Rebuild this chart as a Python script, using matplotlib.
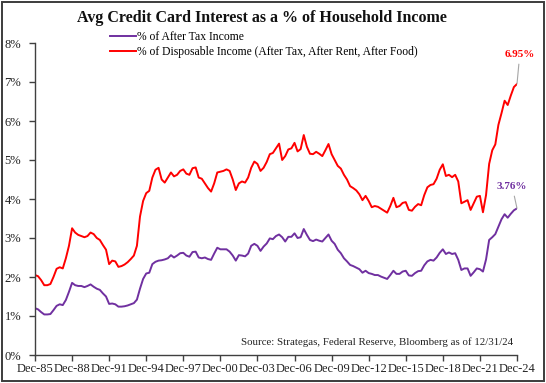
import matplotlib
matplotlib.use("Agg")
import matplotlib.pyplot as plt
from matplotlib.patches import Rectangle
import pandas as pd

# Quarterly data, Dec-1985 .. Dec-2024
start_q = "1985-12-31"
end_q = "2024-12-31"

after_tax = [
    1.20,
    1.17, 1.10, 1.04, 1.04,
    1.05, 1.15, 1.26, 1.30,
    1.28, 1.41, 1.62, 1.85,
    1.79, 1.77, 1.77, 1.74,
    1.77, 1.81, 1.75, 1.70,
    1.67, 1.58, 1.50, 1.31,
    1.32, 1.30, 1.24, 1.24,
    1.25, 1.27, 1.30, 1.33,
    1.42, 1.70, 1.95, 2.09,
    2.11, 2.33, 2.39, 2.42,
    2.43, 2.45, 2.48, 2.56,
    2.50, 2.55, 2.61, 2.62,
    2.55, 2.52, 2.64, 2.65,
    2.50, 2.48, 2.50, 2.46,
    2.44, 2.60, 2.75, 2.71,
    2.71, 2.71, 2.65, 2.55,
    2.42, 2.56, 2.55, 2.53,
    2.60, 2.80, 2.85, 2.80,
    2.67, 2.78, 2.86, 2.99,
    2.97, 3.05, 3.09, 3.02,
    2.91, 3.03, 3.03, 3.12,
    3.00, 3.02, 3.23, 3.08,
    2.95, 2.92, 2.96, 2.93,
    2.91, 3.00, 3.09, 2.93,
    2.85, 2.70, 2.61, 2.48,
    2.40, 2.31, 2.28, 2.24,
    2.20, 2.11, 2.16, 2.10,
    2.08, 2.05, 2.05, 2.01,
    1.98, 1.95, 2.05, 2.16,
    2.08, 2.08, 2.14, 2.16,
    2.04, 2.03, 2.10, 2.15,
    2.16, 2.30, 2.40, 2.44,
    2.42, 2.50, 2.62, 2.71,
    2.59, 2.63, 2.59, 2.61,
    2.44, 2.18, 2.22, 2.22,
    2.03, 2.12, 2.22, 2.20,
    2.14, 2.45, 2.95, 3.02,
    3.10, 3.29, 3.48, 3.61,
    3.52, 3.62, 3.71, 3.76,
]

disposable = [
    2.05,
    2.02, 1.92, 1.79, 1.79,
    1.82, 2.00, 2.21, 2.25,
    2.22, 2.48, 2.80, 3.25,
    3.14, 3.08, 3.05, 3.02,
    3.05, 3.14, 3.10, 3.00,
    2.95, 2.82, 2.70, 2.33,
    2.42, 2.40, 2.26, 2.28,
    2.32, 2.38, 2.46, 2.55,
    2.80, 3.55, 3.95, 4.15,
    4.21, 4.55, 4.75, 4.80,
    4.50, 4.42, 4.55, 4.68,
    4.58, 4.62, 4.72, 4.76,
    4.65, 4.62, 4.79, 4.81,
    4.55, 4.52, 4.40, 4.28,
    4.19, 4.40, 4.68, 4.70,
    4.72, 4.76, 4.72, 4.50,
    4.23, 4.40, 4.45, 4.42,
    4.55, 4.80, 4.96, 4.90,
    4.72, 4.80, 4.95, 5.15,
    5.18, 5.30, 5.42, 5.00,
    5.10, 5.27, 5.30, 5.44,
    5.22, 5.28, 5.64, 5.34,
    5.16, 5.15, 5.21, 5.16,
    5.10, 5.25, 5.41, 5.15,
    5.00, 4.85, 4.78, 4.62,
    4.50, 4.33, 4.28, 4.22,
    4.12, 3.97, 4.08, 3.95,
    3.79, 3.82, 3.80, 3.75,
    3.70, 3.65, 3.82, 4.03,
    3.79, 3.82, 3.90, 3.92,
    3.72, 3.70, 3.80, 3.87,
    3.84, 4.10, 4.30, 4.36,
    4.38, 4.52, 4.75, 4.89,
    4.59, 4.62, 4.56, 4.62,
    4.45, 3.89, 3.93, 3.97,
    3.72, 3.89, 4.06, 4.08,
    3.66, 4.10, 4.90, 5.25,
    5.40, 5.90, 6.20, 6.52,
    6.41, 6.65, 6.87, 6.95,
]

title = "Avg Credit Card Interest as a % of Household Income"
label_after_tax = "% of After Tax Income"
label_disp = "% of Disposable Income (After Tax, After Rent, After Food)"
source = "Source: Strategas, Federal Reserve, Bloomberg as of 12/31/24"
yticks = [0, 1, 2, 3, 4, 5, 6, 7, 8]

dates = pd.date_range(start_q, end_q, freq="QE")

plt.rcParams['font.family'] = ['Liberation Serif', 'DejaVu Serif']

W, H = 546, 383
fig = plt.figure(figsize=(W / 100, H / 100), dpi=100)
fig.patch.set_facecolor("white")
fig.patches.append(Rectangle((2 / W, 2 / H), 1 - 4 / W, 1 - 4 / H, transform=fig.transFigure,
                             fill=False, edgecolor="#3c3c3c", lw=1.4))

ax = fig.add_axes([35 / W, (H - 355) / H, (517 - 35) / W, (355 - 43) / H])
purple = "#7030A0"
red = "#FF0000"
ax.plot(dates, after_tax, color=purple, lw=1.4, label=label_after_tax)
ax.plot(dates, disposable, color=red, lw=1.4, label=label_disp)

ax.set_ylim(0, 8)
ax.set_xlim(dates[0], dates[-1])
ax.set_yticks(yticks)
ax.set_yticklabels([f"{v}%" for v in yticks])
tick_dates = [d for d in dates if d.month == 12 and d.year % 3 == 2]
ax.set_xticks(tick_dates)
ax.set_xticklabels([d.strftime("Dec-%y") for d in tick_dates])
for s in ["top", "right"]:
    ax.spines[s].set_visible(False)
for s in ["left", "bottom"]:
    ax.spines[s].set_color("#404040")
    ax.spines[s].set_linewidth(1.0)
ax.tick_params(axis="both", direction="out", length=4, width=1.0, color="#404040",
               labelsize=9, labelcolor="#222222")
ax.tick_params(axis="y", pad=6)
ax.tick_params(axis="x", pad=2)

fig.text(0.48, 1 - 18 / H, title, ha="center", va="center", fontsize=11.5, fontweight="bold",
         color="#111111")

ax.legend(loc="upper left", bbox_to_anchor=(75 / (517 - 35), 1 + 12 / 312), frameon=False,
          fontsize=8.4, handlelength=2.2, handletextpad=0.1, labelspacing=0.3,
          borderaxespad=0, borderpad=0)

ax.text(1.0 - 4 / 482, 8 / 312, source, transform=ax.transAxes, ha="right", va="bottom",
        fontsize=7.8, color="#222222")

ax.annotate(f"{disposable[-1]:.2f}%", xy=(dates[-1], disposable[-1]), xytext=(2, 21.5),
            textcoords="offset points", ha="center", va="center", fontsize=8, fontweight="bold",
            color=red, annotation_clip=False,
            arrowprops=dict(arrowstyle="-", color="#a6a6a6", lw=0.8, shrinkA=2, shrinkB=0))
ax.annotate(f"{after_tax[-1]:.2f}%", xy=(dates[-1], after_tax[-1]), xytext=(-3.5, 16),
            textcoords="offset points", ha="center", va="center", fontsize=8, fontweight="bold",
            color=purple, annotation_clip=False,
            arrowprops=dict(arrowstyle="-", color="#a6a6a6", lw=0.8, shrinkA=2, shrinkB=0))

fig.savefig("out.png", dpi=100)
